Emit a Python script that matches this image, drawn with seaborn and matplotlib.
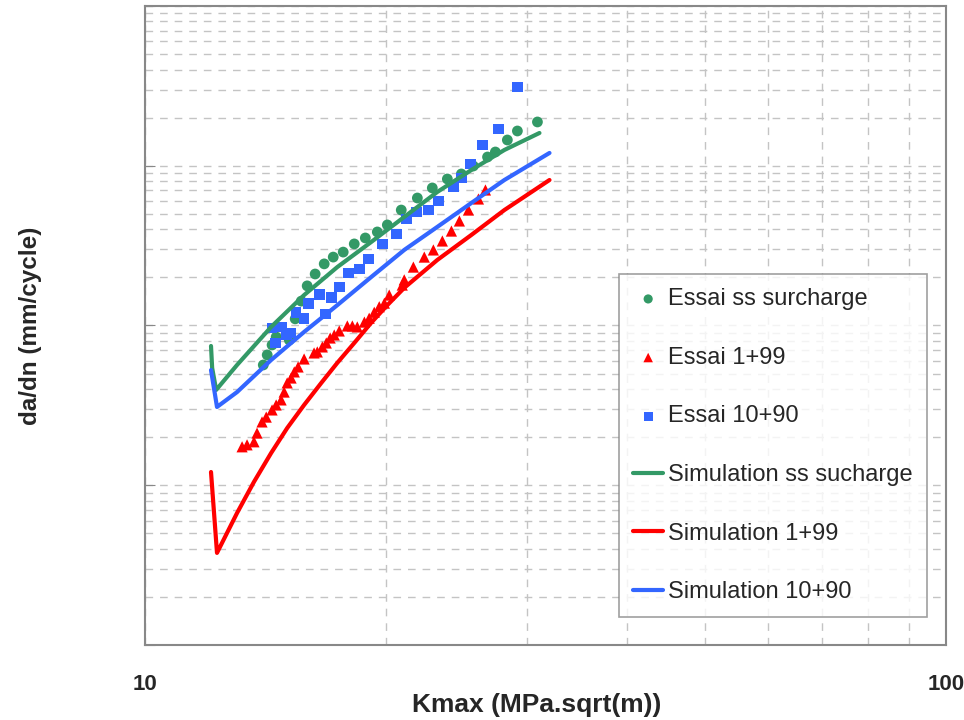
import numpy as np
import pandas as pd
import matplotlib
matplotlib.use("Agg")
import matplotlib.pyplot as plt
import matplotlib.ticker as mticker
import seaborn as sns

# Essai data (Kmax in MPa.sqrt(m), da/dn in mm/cycle)
essai_ss_k = [14.05, 14.21, 14.41, 14.58, 15.14, 15.40, 15.67, 15.94, 16.31, 16.74,
              17.18, 17.68, 18.25, 18.84, 19.50, 20.07, 20.89, 21.88, 22.84, 23.85,
              24.83, 25.70, 26.77, 27.38, 28.34, 29.17, 30.90]
essai_ss_dadn = [5.66e-5, 6.54e-5, 7.55e-5, 8.47e-5, 8.11e-5, 1.10e-4, 1.42e-4, 1.77e-4,
                 2.10e-4, 2.43e-4, 2.68e-4, 2.88e-4, 3.24e-4, 3.53e-4, 3.85e-4, 4.26e-4,
                 5.28e-4, 6.28e-4, 7.26e-4, 8.26e-4, 8.88e-4, 9.96e-4, 1.134e-3, 1.219e-3,
                 1.449e-3, 1.650e-3, 1.879e-3]

essai_1_k = [13.22, 13.41, 13.68, 13.80, 14.00, 14.17, 14.41, 14.58, 14.79, 14.92,
             15.05, 15.22, 15.36, 15.53, 15.80, 16.26, 16.41, 16.65, 16.84, 17.03,
             17.23, 17.48, 17.89, 18.15, 18.41, 18.79, 19.05, 19.33, 19.61, 19.90,
             20.18, 20.95, 21.07, 21.63, 22.32, 22.91, 23.51, 24.13, 24.69, 25.34,
             26.08, 26.61]
essai_1_dadn = [1.74e-5, 1.79e-5, 1.87e-5, 2.12e-5, 2.49e-5, 2.67e-5, 2.96e-5, 3.18e-5,
                3.42e-5, 3.83e-5, 4.37e-5, 4.69e-5, 5.12e-5, 5.50e-5, 6.17e-5, 6.73e-5,
                6.83e-5, 7.34e-5, 7.77e-5, 8.35e-5, 8.72e-5, 9.24e-5, 9.93e-5, 9.93e-5,
                9.79e-5, 1.05e-4, 1.11e-4, 1.21e-4, 1.31e-4, 1.38e-4, 1.55e-4, 1.79e-4,
                1.93e-4, 2.32e-4, 2.68e-4, 2.97e-4, 3.38e-4, 3.90e-4, 4.51e-4, 5.28e-4,
                6.19e-4, 7.05e-4]

essai_10_k = [14.41, 14.79, 14.54, 15.01, 15.22, 15.44, 15.80, 15.99, 16.50, 16.79,
              17.08, 17.48, 17.94, 18.52, 19.00, 19.78, 20.59, 21.19, 21.82, 22.58,
              23.24, 24.27, 24.83, 25.48, 26.38, 27.62, 29.17]
essai_10_dadn = [9.65e-5, 9.79e-5, 7.77e-5, 8.72e-5, 8.98e-5, 1.21e-4, 1.11e-4, 1.38e-4,
                 1.57e-4, 1.18e-4, 1.49e-4, 1.74e-4, 2.13e-4, 2.26e-4, 2.61e-4, 3.24e-4,
                 3.74e-4, 4.64e-4, 5.13e-4, 5.28e-4, 6.01e-4, 7.36e-4, 8.38e-4, 1.025e-3,
                 1.349e-3, 1.70e-3, 3.11e-3]

# Simulation curves
sim_ss_k = [12.09, 12.13, 12.27, 13.03, 14.37, 15.80, 17.38, 19.16, 21.07, 23.17, 25.56, 28.10, 31.08]
sim_ss_dadn = [7.44e-5, 5.42e-5, 3.95e-5, 5.66e-5, 9.79e-5, 1.55e-4, 2.32e-4, 3.33e-4,
               4.78e-4, 6.85e-4, 9.41e-4, 1.255e-3, 1.603e-3]

sim_1_k = [12.09, 12.30, 13.03, 13.68, 14.37, 15.05, 15.80, 16.60, 17.38, 18.25, 19.16,
           20.07, 21.07, 23.17, 25.56, 28.10, 31.99]
sim_1_dadn = [1.21e-5, 3.77e-6, 6.70e-6, 1.05e-5, 1.59e-5, 2.28e-5, 3.18e-5, 4.37e-5,
              5.83e-5, 7.77e-5, 1.04e-4, 1.34e-4, 1.72e-4, 2.57e-4, 3.69e-4, 5.28e-4, 8.14e-4]

sim_10_k = [12.09, 12.30, 13.03, 14.37, 15.80, 17.38, 19.16, 21.07, 23.17, 25.56, 28.10, 31.99]
sim_10_dadn = [5.26e-5, 3.09e-5, 3.83e-5, 6.08e-5, 9.11e-5, 1.34e-4, 2.01e-4, 2.97e-4,
               4.14e-4, 5.85e-4, 8.14e-4, 1.202e-3]

green = '#339966'
red = '#FF0000'
blue = '#3366FF'

sns.set_style('white')
plt.rcParams['font.family'] = ['Liberation Sans', 'DejaVu Sans']

fig = plt.figure(figsize=(9.64, 7.2), dpi=100)
ax = fig.add_axes([0.1504, 0.1042, 0.8309, 0.8875])

# Essai points
sns.scatterplot(x=essai_ss_k, y=essai_ss_dadn, marker='o', color=green, s=60,
                edgecolor='none', label='Essai ss surcharge', ax=ax, zorder=3)
sns.scatterplot(x=essai_1_k, y=essai_1_dadn, marker='^', color=red, s=65,
                edgecolor='none', label='Essai 1+99', ax=ax, zorder=3)
sns.scatterplot(x=essai_10_k, y=essai_10_dadn, marker='s', color=blue, s=60,
                edgecolor='none', label='Essai 10+90', ax=ax, zorder=3)

# Simulation lines
for k, d, c, lab in [(sim_ss_k, sim_ss_dadn, green, 'Simulation ss sucharge'),
                     (sim_1_k, sim_1_dadn, red, 'Simulation 1+99'),
                     (sim_10_k, sim_10_dadn, blue, 'Simulation 10+90')]:
    sns.lineplot(x=k, y=d, sort=False, estimator=None, color=c, lw=3,
                 label=lab, ax=ax, zorder=4)

ax.set_xscale('log')
ax.set_yscale('log')
ax.set_xlim(10, 100)
ax.set_ylim(1e-6, 1e-2)

ax.grid(which='both', axis='both', color='#c4c4c4', lw=1, ls=(0, (5.5, 5)))
ax.set_axisbelow(True)

ax.set_xticks([10, 100])
ax.set_xticklabels(['10', '100'], fontweight='bold', fontsize=16)
ax.xaxis.set_minor_formatter(mticker.NullFormatter())
ax.yaxis.set_minor_formatter(mticker.NullFormatter())
ax.tick_params(axis='x', which='both', length=0, pad=21)
ax.tick_params(axis='y', which='major', direction='in', length=7, color='#888888',
               labelleft=False, left=True)
ax.tick_params(axis='y', which='minor', length=0, labelleft=False)

for sp in ax.spines.values():
    sp.set_color('#888888')
    sp.set_linewidth(1.5)

ax.set_xlabel('Kmax (MPa.sqrt(m))', fontsize=19, fontweight='bold')
ax.xaxis.set_label_coords(0.489, -0.075)
ax.set_ylabel('da/dn (mm/cycle)', fontsize=17.5, fontweight='bold')
ax.yaxis.set_label_coords(-0.128, 0.5)

leg = ax.legend(loc='upper left', bbox_to_anchor=(0.5918, 0.5806), borderaxespad=0,
                fontsize=17, frameon=True, fancybox=False, edgecolor='#888888',
                handlelength=1.27, handletextpad=0.2, labelspacing=1.55,
                borderpad=0.6, markerscale=0.85)
leg.get_frame().set_linewidth(1.2)

fig.savefig('out.png', dpi=100)
